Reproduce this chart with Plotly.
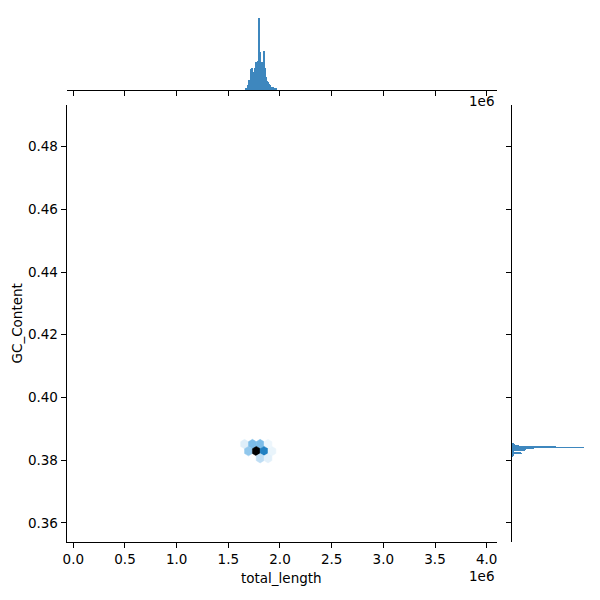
import colorsys
import numpy as np
import plotly.graph_objects as go

# ---------------- data ----------------
# top marginal histogram of total_length (bin centers in bp, counts)
len_bin_centers = [1.665e6, 1.675e6, 1.685e6, 1.695e6, 1.705e6, 1.715e6, 1.725e6, 1.735e6,
                   1.745e6, 1.755e6, 1.765e6, 1.775e6, 1.785e6, 1.795e6, 1.805e6, 1.815e6,
                   1.825e6, 1.835e6, 1.845e6, 1.855e6, 1.865e6, 1.875e6, 1.885e6, 1.895e6,
                   1.905e6, 1.915e6, 1.925e6, 1.935e6, 1.945e6, 1.955e6]
len_counts = [1, 1, 3, 7, 5, 14, 15, 12, 6, 15, 19, 16, 20, 50, 26, 18, 19, 14, 27, 15,
              9, 6, 5, 4, 3, 2, 2, 1, 1, 1]
len_bin_width = 0.01e6

# right marginal histogram of GC_Content
gc_bin_centers = [0.3851, 0.3849, 0.3847, 0.3845, 0.3843, 0.3841, 0.3839, 0.3837, 0.3835,
                  0.3833, 0.3831, 0.3829, 0.3827, 0.3825, 0.3823, 0.3821, 0.3819, 0.3817,
                  0.3815, 0.3813]
gc_counts = [3, 4, 8, 10, 61, 100, 30, 26, 20, 18, 3, 2, 2, 3, 12, 14, 2, 2, 1, 1]
gc_bin_width = 0.0002

# hexbin cells (center total_length, center GC_Content, count)
hex_x = [1.657e6, 1.733e6, 1.808e6, 1.884e6,
         1.695e6, 1.771e6, 1.846e6, 1.922e6,
         1.808e6, 1.884e6]
hex_y = [0.38516, 0.38516, 0.38516, 0.38516,
         0.38290, 0.38290, 0.38290, 0.38290,
         0.38064, 0.38064]
hex_counts = [10, 37, 37, 6, 31, 120, 67, 7, 19, 9]

x_ticks = [0, 0.5e6, 1.0e6, 1.5e6, 2.0e6, 2.5e6, 3.0e6, 3.5e6, 4.0e6]
x_tick_labels = ["0.0", "0.5", "1.0", "1.5", "2.0", "2.5", "3.0", "3.5", "4.0"]
y_ticks = [0.36, 0.38, 0.40, 0.42, 0.44, 0.46, 0.48]
y_tick_labels = ["0.36", "0.38", "0.40", "0.42", "0.44", "0.46", "0.48"]

# ---------------- styling ----------------
BAR_COLOR = "rgb(62,135,190)"
FONT = "DejaVu Sans"
FS = 13.5
HEX_SX = 0.0757e6
HEX_SY = 0.004516
W = 600
OFF = 8  # page body margin of the exported html


def fx(p):
    return (p - OFF) / W


def fy(p):
    return 1 - (p - OFF) / W


# colormap like seaborn jointplot hex: lightness 1 -> 0 of C0
base = (31 / 255, 119 / 255, 180 / 255)
h, l, s = colorsys.rgb_to_hls(*base)
pal = [colorsys.hls_to_rgb(h, li, s) for li in np.linspace(1, 0, 12)]


def cmap(v):
    v = min(max(v, 0.0), 1.0)
    pos = v * (len(pal) - 1)
    i = int(np.floor(pos))
    if i >= len(pal) - 1:
        c = pal[-1]
    else:
        f = pos - i
        c = tuple(pal[i][k] * (1 - f) + pal[i + 1][k] * f for k in range(3))
    return "rgb(%d,%d,%d)" % tuple(int(round(255 * ch)) for ch in c)


vmin, vmax = 1, max(hex_counts)

fig = go.Figure()

hex_unit = [(0.5, -0.5), (0.5, 0.5), (0.0, 1.0), (-0.5, 0.5), (-0.5, -0.5), (0.0, -1.0), (0.5, -0.5)]
for cx, cy, cnt in zip(hex_x, hex_y, hex_counts):
    col = cmap((cnt - vmin) / (vmax - vmin))
    xs = [cx + HEX_SX * a for a, b in hex_unit]
    ys = [cy + HEX_SY / 3 * b for a, b in hex_unit]
    fig.add_trace(go.Scatter(x=xs, y=ys, mode="lines", fill="toself", fillcolor=col,
                             line=dict(color=col, width=0.5), hoverinfo="skip",
                             xaxis="x", yaxis="y"))

fig.add_trace(go.Bar(x=len_bin_centers, y=len_counts, width=len_bin_width,
                     marker=dict(color=BAR_COLOR, line=dict(width=0)),
                     xaxis="x2", yaxis="y2"))
fig.add_trace(go.Bar(y=gc_bin_centers, x=gc_counts, width=gc_bin_width, orientation="h",
                     marker=dict(color=BAR_COLOR, line=dict(width=0)),
                     xaxis="x3", yaxis="y3"))

MX = [fx(66.7), fx(496.7)]
MY = [fy(542), fy(105)]
line_common = dict(showline=True, linecolor="black", linewidth=1.1, ticks="outside",
                   ticklen=5, tickwidth=1.1, tickcolor="black", showgrid=False,
                   zeroline=False, automargin=False)
tickfont = dict(family=FONT, size=FS, color="black")

fig.update_layout(
    width=W, height=W, margin=dict(l=0, r=0, t=0, b=0, autoexpand=False),
    paper_bgcolor="white", plot_bgcolor="white", showlegend=False, bargap=0,
    xaxis=dict(domain=MX, range=[-0.064e6, 4.097e6], anchor="y",
               tickvals=x_ticks, ticktext=x_tick_labels, tickfont=tickfont, **line_common),
    yaxis=dict(domain=MY, range=[0.35394, 0.49323], anchor="x",
               tickvals=y_ticks, ticktext=y_tick_labels, tickfont=tickfont, **line_common),
    xaxis2=dict(domain=MX, anchor="y2", matches="x", tickvals=x_ticks,
                showticklabels=False, **line_common),
    yaxis2=dict(domain=[fy(90), fy(14.4)], anchor="x2",
                range=[0, max(len_counts) * 1.05], visible=False, automargin=False),
    xaxis3=dict(domain=[fx(511.7), fx(587.7)], anchor="y3",
                range=[0, max(gc_counts) * 1.05], visible=False, automargin=False),
    yaxis3=dict(domain=MY, anchor="x3", matches="y", tickvals=y_ticks,
                showticklabels=False, **line_common),
    annotations=[
        dict(text="total_length", x=fx(281.7), y=fy(578), xref="paper", yref="paper",
             xanchor="center", yanchor="middle", showarrow=False, font=tickfont),
        dict(text="GC_Content", x=fx(16), y=fy(323.5), xref="paper", yref="paper",
             xanchor="center", yanchor="middle", textangle=-90, showarrow=False, font=tickfont),
        dict(text="1e6", x=fx(496), y=fy(576), xref="paper", yref="paper",
             xanchor="right", yanchor="middle", showarrow=False, font=tickfont),
        dict(text="1e6", x=fx(496), y=fy(100.5), xref="paper", yref="paper",
             xanchor="right", yanchor="middle", showarrow=False, font=tickfont),
    ],
)

fig.write_html("out.html")
